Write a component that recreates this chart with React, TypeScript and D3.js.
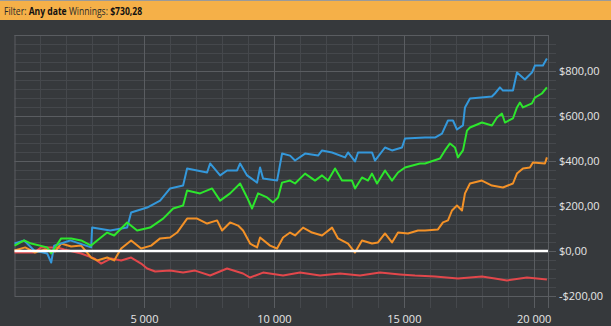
import React from "react";
import * as d3 from "d3";

// ---- data (games played, winnings in $) ----
const blueGames = [0, 373, 758, 1258, 1412, 1527, 2142, 2950, 2988, 3681, 4335, 4488, 5104, 5604, 5988, 6488, 6642, 7412, 7527, 7912, 8181, 8566, 8681, 8950, 9335, 9450, 9565, 10104, 10296, 10604, 10796, 11181, 11681, 11835, 12219, 12719, 12835, 13104, 13219, 13758, 13873, 14258, 14527, 14912, 15027, 15796, 16181, 16450, 16681, 16873, 17027, 17258, 17335, 17527, 18373, 18488, 18681, 18796, 19181, 19335, 19642, 19912, 20027, 20335, 20488];
const blueValues = [33, 47, 2, -11, -51, 24, 47, 16, 104, 91, 104, 171, 193, 224, 278, 291, 367, 349, 389, 336, 358, 358, 389, 336, 304, 371, 322, 313, 433, 424, 402, 433, 424, 447, 438, 416, 438, 398, 438, 438, 402, 460, 447, 460, 500, 504, 504, 522, 580, 580, 540, 558, 638, 678, 687, 700, 727, 713, 713, 793, 762, 793, 824, 824, 856];

const greenGames = [0, 373, 642, 1258, 1412, 1796, 2181, 2566, 2950, 3181, 3565, 3835, 4335, 4719, 5219, 5719, 6104, 6488, 6642, 7142, 7604, 7912, 8296, 8681, 8950, 9142, 9373, 9719, 9950, 10142, 10296, 10604, 10796, 11181, 11566, 11835, 12066, 12335, 12604, 12988, 13104, 13373, 13604, 13758, 13950, 14258, 14527, 14758, 15027, 15604, 15796, 16373, 16565, 16758, 16950, 17066, 17258, 17412, 17527, 17988, 18373, 18566, 18758, 18873, 19181, 19335, 19450, 19566, 19912, 20027, 20296, 20488];
const greenValues = [24, 47, 33, 16, -11, 56, 56, 47, 24, 47, 82, 69, 127, 91, 104, 144, 189, 202, 269, 256, 278, 224, 256, 300, 238, 189, 256, 238, 216, 238, 304, 313, 300, 344, 313, 336, 313, 367, 313, 313, 278, 327, 313, 344, 300, 358, 313, 349, 371, 389, 389, 411, 447, 478, 460, 416, 447, 535, 549, 571, 558, 593, 611, 571, 589, 638, 660, 638, 656, 682, 700, 727];

const orangeGames = [0, 411, 796, 1181, 1566, 1796, 2181, 2566, 2950, 3181, 3565, 3835, 4104, 4488, 4873, 5258, 5604, 5988, 6258, 6642, 7027, 7412, 7796, 7988, 8296, 8604, 8796, 9066, 9335, 9450, 9835, 10104, 10335, 10604, 10796, 11104, 11450, 11835, 12219, 12450, 12835, 13104, 13373, 13758, 13988, 14258, 14527, 14758, 15142, 15527, 15796, 16296, 16488, 16681, 16835, 17027, 17220, 17335, 17527, 17988, 18373, 18796, 19181, 19335, 19566, 19835, 19950, 20412, 20488];
const orangeValues = [2, 16, -7, 7, -2, 33, 20, 24, -29, -42, -29, -42, 11, 47, 11, 24, 56, 60, 82, 144, 144, 122, 136, 91, 127, 113, 91, 33, 16, 60, 24, 11, 60, 82, 69, 104, 82, 69, 104, 56, 33, -7, 47, 33, 38, 78, 38, 82, 78, 91, 91, 96, 127, 136, 180, 202, 180, 256, 300, 313, 291, 282, 300, 344, 367, 371, 393, 389, 416];

const redGames = [0, 758, 1027, 1642, 1912, 2566, 3066, 3335, 3720, 4104, 4488, 4873, 5104, 5412, 5988, 6488, 6950, 7527, 8181, 8796, 9066, 9565, 10335, 10988, 11758, 12527, 13296, 14066, 14835, 15412, 16181, 17066, 17988, 18488, 18950, 19720, 20488];
const redValues = [-7, -7, 16, 16, 7, -11, -33, -56, -33, -42, -29, -56, -78, -91, -87, -96, -87, -109, -78, -100, -118, -96, -109, -96, -109, -100, -109, -96, -104, -109, -113, -122, -113, -122, -131, -118, -127];

const xTickValues = [5000, 10000, 15000, 20000];
const xTickLabels = ["5 000", "10 000", "15 000", "20 000"];
const yTickValues = [-200, 0, 200, 400, 600, 800];
const yTickLabels = ["-$200,00", "$0,00", "$200,00", "$400,00", "$600,00", "$800,00"];

const headerParts = [
  { text: "Filter: ", bold: false },
  { text: "Any date", bold: true },
  { text: " Winnings: ", bold: false },
  { text: "$730,28", bold: true },
];

// ---- layout ----
const W = 611;
const H = 326;
const left = 14.5;
const right = 548;
const top = 35;
const bottom = 296;

const x = d3.scaleLinear().domain([0, 20530]).range([left, right]);
const y = d3.scaleLinear().domain([-200, 960]).range([bottom, top]);

const series = [
  { games: redGames, values: redValues, color: "#e2474b" },
  { games: orangeGames, values: orangeValues, color: "#f39127" },
  { games: blueGames, values: blueValues, color: "#3498db" },
  { games: greenGames, values: greenValues, color: "#2de62d" },
];

export default function App() {
  const line = d3
    .line<[number, number]>()
    .x((d) => x(d[0]))
    .y((d) => y(d[1]));

  const minorX = d3.range(1000, 20531, 1000);
  const minorY = d3.range(-160, 960, 40);

  return (
    <svg
      width={W}
      height={H}
      style={{ position: "absolute", left: 0, top: 0, display: "block" }}
    >
      <rect x={0} y={0} width={W} height={H} fill="#36393c" />
      {/* header */}
      <rect x={0} y={0} width={W} height={20} fill="#f5b048" />
      <line x1={0} x2={W} y1={0.5} y2={0.5} stroke="#9a9a9a" />
      <g transform="translate(4,14.5) scale(0.78,1)">
        <text
          x={0}
          y={0}
          fontFamily="'Open Sans', 'DejaVu Sans', sans-serif"
          fontSize={11}
          fill="#2a2a2a"
        >
          {headerParts.map((p, i) => (
            <tspan key={i} fontWeight={p.bold ? 700 : 400} fill={p.bold ? "#111" : "#2a2a2a"}>
              {p.text}
            </tspan>
          ))}
        </text>
      </g>

      {/* grid: minor */}
      <g stroke="#45484c" strokeWidth={1}>
        {minorX.map((v) => (
          <line key={"vx" + v} x1={Math.round(x(v)) + 0.5} x2={Math.round(x(v)) + 0.5} y1={top} y2={bottom + 12} />
        ))}
        {minorY.map((v) => (
          <line key={"hy" + v} x1={left} x2={right + 8} y1={Math.round(y(v)) + 0.5} y2={Math.round(y(v)) + 0.5} />
        ))}
      </g>
      {/* grid: major */}
      <g stroke="#5a5d61" strokeWidth={1}>
        {xTickValues.map((v) => (
          <line key={"VX" + v} x1={Math.round(x(v)) + 0.5} x2={Math.round(x(v)) + 0.5} y1={top} y2={bottom + 12} />
        ))}
        {yTickValues.map((v) => (
          <line key={"HY" + v} x1={left} x2={right + 8} y1={Math.round(y(v)) + 0.5} y2={Math.round(y(v)) + 0.5} />
        ))}
        <line x1={left + 0.5} x2={left + 0.5} y1={top} y2={bottom} />
        <line x1={left} x2={right} y1={top + 0.5} y2={top + 0.5} />
        <line x1={right + 0.5} x2={right + 0.5} y1={top} y2={bottom + 12} />
      </g>

      {/* series */}
      {series.map((s, i) => (
        <path
          key={i}
          d={line(s.games.map((g, j) => [g, s.values[j]]) as [number, number][]) || ""}
          fill="none"
          stroke={s.color}
          strokeWidth={2}
          strokeLinejoin="round"
        />
      ))}

      {/* zero line */}
      <line x1={left} x2={right} y1={y(0)} y2={y(0)} stroke="#ffffff" strokeWidth={2.5} />

      {/* axis labels */}
      {xTickValues.map((v, i) => (
        <text
          key={"xl" + v}
          x={x(v)}
          y={323}
          textAnchor="middle"
          fontFamily="'Open Sans', sans-serif"
          fontSize={11}
          fill="#e6e6e6"
        >
          {xTickLabels[i]}
        </text>
      ))}
      {yTickValues.map((v, i) => (
        <text
          key={"yl" + v}
          x={559}
          y={y(v) + 4}
          fontFamily="'Open Sans', sans-serif"
          fontSize={11}
          fill="#e6e6e6"
        >
          {yTickLabels[i]}
        </text>
      ))}
    </svg>
  );
}
